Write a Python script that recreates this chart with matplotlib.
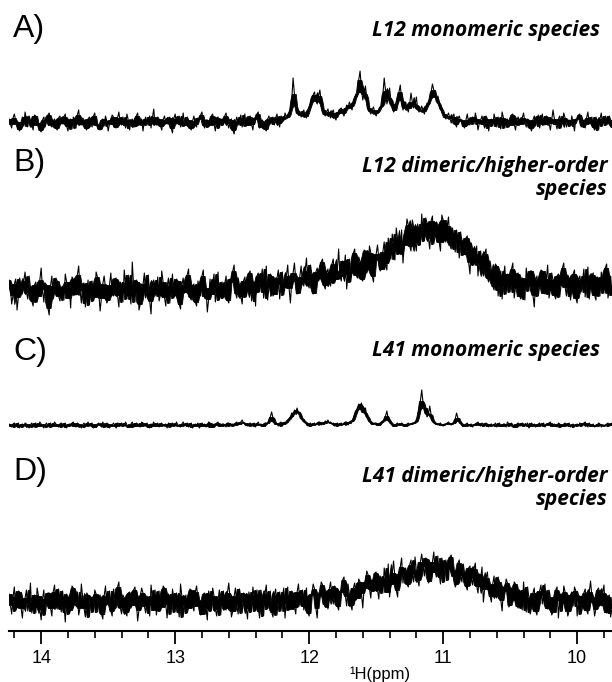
import numpy as np
import matplotlib.pyplot as plt
from matplotlib.ticker import MultipleLocator

# spectra sampled every 0.01 ppm from 14.24 down to 9.74 ppm
ppm_start, ppm_end = 14.24, 9.74

# L12 monomeric species
spec_a = [
    3, -2, -6, 4, 8, 1, -2, -7, -9, 0,
    5, -4, 10, 2, -5, 6, 2, -3, -8, 7,
    6, -1, -3, -8, -10, 2, 5, -5, 0, 7,
    9, -3, -5, 1, 3, -6, -8, 4, 6, -1,
    -2, 5, 8, -4, -9, 2, 3, -7, 5, 1,
    -6, 7, 12, -2, -3, 4, 2, -6, -8, 3,
    5, -1, -5, 6, 9, -3, -2, -7, -8, 2,
    3, -4, 6, 1, -9, -2, 2, 7, 5, -5,
    -6, 4, 10, -1, -3, 5, 0, -6, 8, 2,
    -8, 1, 3, -4, -5, 6, 9, -3, -2, 3,
    -9, 1, 5, -3, 2, 6, -6, 4, 13, -2,
    -3, 5, 3, -4, -8, 2, 6, -1, -2, 4,
    5, -6, -11, 3, 8, -2, 0, 6, -5, -1,
    9, -4, -3, 5, 2, -6, -8, 1, 6, -2,
    -5, 4, 3, 7, 10, -3, -6, 2, 2, -5,
    -3, 6, 8, -2, -9, 4, 5, -6, 0, 3,
    -3, 6, 9, -1, -6, 2, 3, -8, -12, 0,
    5, -3, 2, 7, -5, 1, 8, -4, -3, 5,
    6, -2, -8, 4, 3, 8, 10, -6, -5, 2,
    0, -7, -9, 3, 6, -2, 2, 5, -3, 4,
    8, -1, -5, 6, 3, 1, 9, 5, 4, 7,
    12, 22, 44, 28, 16, 9, 7, 11, 5, 8,
    12, 6, 4, 10, 14, 18, 24, 27, 30, 21,
    18, 26, 32, 20, 12, 8, 6, 10, 13, 7,
    4, 9, 12, 5, 2, 8, 10, 13, 14, 9,
    6, 12, 17, 14, 20, 16, 12, 19, 24, 27,
    30, 42, 51, 33, 22, 28, 36, 24, 14, 11,
    8, 12, 15, 9, 6, 10, 12, 15, 16, 27,
    44, 31, 18, 24, 34, 22, 16, 10, 12, 18,
    24, 30, 37, 22, 12, 15, 20, 14, 10, 18,
    29, 20, 14, 17, 25, 13, 10, 12, 16, 11,
    8, 14, 19, 17, 23, 30, 38, 32, 25, 20,
    26, 18, 12, 14, 8, 5, 3, 6, 9, 4,
    -1, 5, 8, -2, -5, 3, 6, 1, 2, -4,
    -6, 2, 8, -1, -3, 4, 5, -2, 9, 3,
    -8, -1, 2, 6, -2, -6, 6, 3, -9, 1,
    3, -4, 8, 2, -5, 5, 0, -7, 10, 4,
    -6, 1, 3, -5, -3, 7, 8, -2, -8, 2,
    5, -3, -2, 4, 9, 0, -5, 3, 2, -6,
    -9, 2, 6, -4, 3, 7, -6, 1, 8, -2,
    -3, 6, 5, -1, -8, 2, 12, 3, -2, -7,
    3, 6, -6, -1, 9, 4, -5, 1, 2, -4,
    6, -1, -9, 3, 3, 7, 8, -5, -3, 2,
    -6, 4, 10, -2, 0, 5, -5, -8, 5, 1,
    -8, 3, 9, -4, 2, 6, -3, -1, 6, 2,
    -5,
]

# L12 dimeric/higher-order species
spec_b = [
    10, 2, -14, -5, 6, 11, -20, -7, 12, 3,
    -4, 9, 18, -2, -9, 14, 3, -11, -16, 5,
    8, -12, -6, 10, 22, 1, -12, 7, 5, -18,
    -25, 4, 14, -9, -3, 12, 9, -6, -11, 2,
    4, -10, 16, 8, -8, 3, -18, 13, 11, -4,
    -5, 15, 24, 0, -13, 6, 7, -17, -2, 10,
    -15, 4, 9, -11, -7, 18, 13, -3, -21, -8,
    6, 14, 2, -13, -10, 5, 17, -4, -6, 11,
    12, -5, -17, 8, 3, -12, 20, 6, -9, 15,
    -3, -14, 28, 4, -12, 10, 8, -20, -14, 6,
    5, 17, -8, -2, 15, -11, -24, 7, 10, -6,
    1, 13, -11, -5, 19, 8, -7, -16, 4, 12,
    -13, 3, 16, -8, -5, 11, 9, -14, -19, 5,
    12, -3, -2, 15, 21, -7, -10, 4, 6, -12,
    -16, 9, 3, -6, 14, 20, -8, 2, -22, -9,
    11, -4, 7, 16, -12, 1, 18, -10, -4, 8,
    -8, 6, 14, -10, -13, 11, 8, 19, 25, -3,
    -8, 12, 5, -6, -14, 9, 13, -7, -1, 17,
    19, -11, -3, 8, -16, 14, 17, -2, 9, 21,
    -8, 4, 24, -10, 3, 16, 14, -6, -4, 12,
    12, 20, -9, 6, 18, -5, 3, 14, 25, 2,
    -13, 9, 17, 27, 10, -4, -3, 13, 24, 8,
    4, 19, 32, 6, 2, 25, 16, -4, -3, 18,
    22, 9, 12, 28, 31, 5, 1, 17, 21, 8,
    4, 26, 31, 7, 11, 19, 41, 14, 9, 29,
    21, 35, 1, 16, 31, 8, 18, 37, 41, 15,
    12, 33, 28, 11, 9, 40, 39, 17, 21, 44,
    37, 14, 8, 30, 36, 45, 31, 19, 21, 38,
    48, 27, 20, 52, 39, 31, 56, 43, 30, 62,
    51, 36, 37, 60, 27, 45, 54, 71, 65, 44,
    39, 70, 63, 48, 39, 66, 58, 45, 76, 57,
    49, 72, 67, 52, 41, 69, 74, 46, 54, 68,
    65, 48, 39, 75, 70, 51, 48, 64, 73, 45,
    41, 62, 53, 38, 60, 51, 32, 58, 49, 35,
    36, 52, 54, 28, 16, 47, 41, 25, 30, 44,
    14, 33, 39, 20, 14, 36, 41, 12, 8, 29,
    20, 4, 0, 26, 24, -6, 9, 19, -9, 13,
    24, -4, 16, 7, -2, 21, 27, -8, 3, 16,
    17, -6, -9, 12, 11, -10, 22, 8, -1, 19,
    19, -5, -17, 10, 14, -6, 4, 20, 19, -3,
    -4, 11, 25, -8, 0, 17, 10, -5, -9, 14,
    16, -7, 5, 22, 27, 3, -6, 15, 12, -10,
    -1, 16, 20, -8, -13, 10, 14, -2, 9, 21,
    -7, 12, 23, -9, 2, 15, 17, -5, -10, 13,
    11, -6, 18, 4, -3, 22, 26, -8, 0, 14,
    -5,
]

# L41 monomeric species
spec_c = [
    1, -1, -2, 1, 2, -2, 0, 2, -3, 0,
    1, -2, 2, 1, -1, -3, 0, 2, -2, 1,
    2, -2, -1, 3, 1, -1, -3, 0, 2, -2,
    0, 2, -2, -1, 3, 1, -1, -2, 1, 2,
    -2, 0, 2, -3, 0, 1, -1, 2, 3, -1,
    -2, 2, 1, -1, -3, 0, 2, -2, 0, 3,
    -1, 1, 2, -3, -2, 0, 1, 2, 0, -2,
    3, -1, -2, 2, 1, -3, -1, 0, 2, -1,
    -3, 2, 1, -1, 2, 0, -1, 3, 0, -2,
    -2, 1, 3, -2, -1, 2, 1, -1, -2, 3,
    2, -1, 0, 2, -2, -3, 1, 0, 3, -1,
    -1, 2, -2, 0, 2, -1, 0, 1, -3, 2,
    1, -2, 2, 0, -1, 3, 0, -1, -2, 1,
    3, -1, 1, 2, -2, 0, 2, -3, -1, 1,
    0, 2, -3, -1, 2, 0, 1, -2, -1, 3,
    2, -2, -2, 1, 0, 2, 3, -1, -1, 1,
    1, 0, -2, 2, 2, -1, 0, 1, -1, 2,
    3, 0, 1, 3, 5, 2, 2, 0, -1, 1,
    2, -1, 0, 2, -2, 1, 3, 0, 1, -1,
    -1, 2, 2, 1, 4, 8, 13, 7, 3, 1,
    1, -1, 2, 3, -1, 1, 3, 2, 5, 6,
    8, 12, 9, 15, 13, 17, 11, 13, 7, 6,
    4, 3, 2, -1, 0, 2, -1, 1, 2, 0,
    1, 3, 3, 0, 2, 1, 4, 3, 5, 2,
    3, 1, 2, -1, 0, 2, -1, 1, 2, 0,
    1, 3, 3, 0, 2, 4, 4, 6, 10, 14,
    16, 21, 19, 22, 13, 12, 17, 9, 7, 4,
    3, 1, 1, 2, 2, 0, 0, 2, 3, 4,
    5, 9, 14, 6, 4, 2, 1, -1, -1, 1,
    2, 0, 0, 2, 1, -1, -1, 1, 2, 0,
    1, 2, 2, 3, 4, 8, 15, 24, 35, 22,
    17, 12, 8, 11, 19, 10, 5, 3, 2, 1,
    0, 1, 2, 0, -1, 1, 1, 2, 3, 1,
    0, 2, 2, 6, 12, 7, 4, 2, 1, -1,
    -1, 1, 2, -1, 0, 1, -2, 0, 1, 2,
    3, 0, -1, 2, 0, -1, 2, 1, -2, 0,
    1, -1, 0, 2, -2, 0, 2, -1, -1, 1,
    1, -2, 3, 1, -1, 2, 0, -2, -2, 1,
    2, 0, -1, 2, 1, -1, 0, 2, -3, -1,
    2, 0, 1, -2, -1, 1, 2, -1, 0, 2,
    -2, 0, 1, 2, 3, -1, -1, 1, 0, -2,
    2, 1, -2, -1, 1, 2, -1, 0, 2, -2,
    0, 1, -2, 0, 1, -1, 2, 1, -1, 2,
    3, 0, -2, 2, 0, -1, 1, -2, -1, 0,
    2, 1, -2, 0, 0, -1, 1, 2, -1, 0,
    2,
]

# L41 dimeric/higher-order species
spec_d = [
    8, -3, -12, 5, 15, -9, -5, 11, 10, -6,
    -16, 2, 4, 12, -9, -1, 19, -11, -3, 7,
    -11, 14, 6, -7, -18, 3, 12, -13, -2, 9,
    9, -6, -14, 10, 17, -4, -7, 13, 3, -10,
    11, -2, -20, 8, 5, -12, -8, 16, 14, -1,
    -4, 10, -13, -6, 18, 4, -6, -15, 9, 7,
    -15, 5, 2, -10, 12, 8, -10, 3, 7, -12,
    -17, 6, 16, -3, -1, 11, -9, -14, 13, 2,
    -6, 15, 20, -5, -12, 7, 4, -10, -14, 9,
    10, -6, -3, 12, 15, 1, -19, -8, 6, 14,
    9, -4, -11, 6, 3, -14, 17, 5, -8, 12,
    -13, 2, 11, -9, -5, 16, 14, -2, -16, 8,
    5, -12, 13, 4, -10, 9, -2, -15, 18, 6,
    -15, 3, 7, -11, -6, 13, 12, -4, -9, 10,
    16, 2, -4, -13, -12, 8, 9, -6, -18, 11,
    4, -9, 14, 6, -7, -14, 2, 12, -13, 5,
    11, -6, -8, 9, 19, 3, -15, -9, 6, 14,
    -3, -12, 13, 5, -11, 9, 8, -6, -17, 10,
    3, -10, 15, 4, -9, 12, -5, -16, 12, 2,
    -14, 8, 17, -7, -2, 11, -10, -15, 7, 13,
    -13, 5, 10, -9, 4, 14, -16, 3, 15, -8,
    -7, 11, 9, -5, -12, 10, 18, 2, -4, 12,
    -8, 5, 14, -11, -14, 7, 8, 18, 13, -6,
    -16, 9, 6, 20, 17, -2, -5, 11, -7, 13,
    20, 5, -2, 16, 14, -4, -8, 11, 10, 22,
    25, 6, -4, 18, 8, -3, -8, 14, 19, 2,
    4, 23, 20, 9, -6, 14, 20, 31, 27, 13,
    4, 22, 11, 29, 30, 12, 3, 26, 21, 9,
    34, 22, 10, 38, 5, 18, 29, 41, 24, 12,
    5, 28, 35, 44, 19, 30, 34, 18, 15, 37,
    42, 28, 20, 45, 31, 22, 16, 40, 48, 36,
    26, 44, 43, 19, 21, 39, 40, 50, 30, 25,
    46, 28, 18, 44, 37, 20, 42, 35, 22, 45,
    47, 32, 26, 15, 18, 39, 42, 27, 20, 38,
    29, 16, 12, 34, 36, 24, 17, 33, 39, 16,
    9, 28, 24, 35, 0, 13, 24, 30, 14, 6,
    0, 18, 26, 7, 4, 25, 20, 2, -9, 15,
    11, 23, 19, -5, -3, 14, 2, 20, 18, -4,
    -6, 12, 10, -8, 20, 3, -10, 15, 4, -12,
    -5, 9, 14, -9, -13, 6, 11, 17, -2, 8,
    18, -6, -7, 12, 5, -13, -10, 4, 12, 15,
    -16, 2, 8, -9, 16, 10, -3, -14, -9, 7,
    10, -4, 15, 11, -14, 6, 6, -12, -5, 9,
    13, -8, -12, 10, 21, 5, 0, -14, -7, 12,
    14, -2, -4, 9, 17, -10, -11, 5, 7, -15,
    -6,
]

panel_tags = ["A)", "B)", "C)", "D)"]
panel_titles = [
    ["L12 monomeric species"],
    ["L12 dimeric/higher-order", "species"],
    ["L41 monomeric species"],
    ["L41 dimeric/higher-order", "species"],
]
spectra = [spec_a, spec_b, spec_c, spec_d]

W, H = 612, 682
fig = plt.figure(figsize=(W / 100, H / 100), dpi=100)

# pixel layout: axes top, axes bottom, baseline, tag centre, first title baseline, title right edge
layout = [
    (55, 145, 122, 29, 36, 600),
    (200, 335, 290, 163, 172, 608),
    (375, 440, 425, 352, 356, 600),
    (540, 631, 602, 472, 482, 608),
]
title_pitch = 23


def trace_body(y, half=2):
    # 2nd-lowest / 2nd-highest point in a small sliding window:
    # the dense part of the noise, drawn solid under the raw trace
    pad = np.pad(y, half, mode="edge")
    win = np.sort(np.lib.stride_tricks.sliding_window_view(pad, 2 * half + 1), axis=1)
    return win[:, 1], win[:, -2]


axes = []
for spec, (top, bot, base, tag_y, title_y, title_x), tag, title in zip(
        spectra, layout, panel_tags, panel_titles):
    ax = fig.add_axes([9 / W, 1 - bot / H, 603 / W, (bot - top) / H])
    ppm = np.linspace(ppm_start, ppm_end, len(spec))
    y = np.asarray(spec, dtype=float)
    lo, hi = trace_body(y)
    ax.fill_between(ppm, lo, hi, color="black", lw=0.6)
    ax.plot(ppm, y, color="black", lw=0.8)
    ax.set_xlim(ppm_start, ppm_end)
    ax.set_ylim(-(bot - base), base - top)
    for s in ax.spines.values():
        s.set_visible(False)
    ax.set_xticks([])
    ax.set_yticks([])
    fig.text(13 / W, 1 - tag_y / H, tag, fontsize=23, family="Liberation Sans",
             va="center", ha="left")
    for n, line in enumerate(title):
        fig.text(title_x / W, 1 - (title_y + n * title_pitch) / H, line,
                 fontsize=15, family="Open Sans", fontweight="bold",
                 style="italic", ha="right", va="baseline")
    axes.append(ax)

# ppm axis on the bottom panel
ax = axes[-1]
ax.spines["bottom"].set_visible(True)
ax.spines["bottom"].set_linewidth(1.5)
ax.xaxis.set_major_locator(MultipleLocator(1))
ax.xaxis.set_minor_locator(MultipleLocator(0.2))
ax.tick_params(axis="x", which="major", direction="out", length=9, width=1.3,
               pad=5, labelsize=13)
ax.tick_params(axis="x", which="minor", direction="out", length=5, width=1.2)
for lab in ax.get_xticklabels():
    lab.set_family("Liberation Sans")
ax.set_xlabel("¹H(ppm)", fontsize=12, family="Liberation Sans")
ax.xaxis.set_label_coords((380 - 9) / 603, -(666 - 631) / (631 - 540))

fig.savefig("out.png", dpi=100)
